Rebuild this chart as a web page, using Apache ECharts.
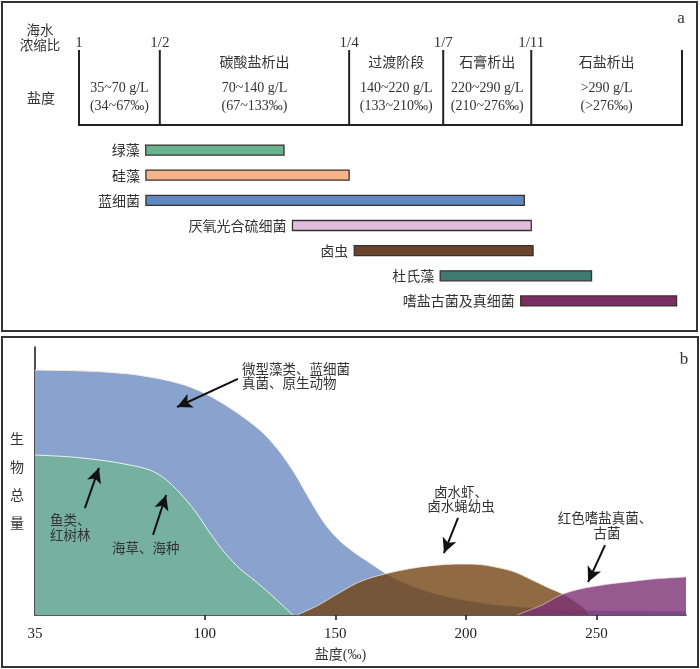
<!DOCTYPE html>
<html>
<head>
<meta charset="utf-8">
<script src="https://cdn.jsdelivr.net/npm/echarts@6/dist/echarts.min.js"></script>
<style>
html,body{margin:0;padding:0;background:#fff;}
#chart{width:700px;height:669px;}
</style>
</head>
<body>
<div id="chart"></div>
<script>
// ---------- Panel a: evaporation stages (schematic position scale 0-100) ----------
const ratioLabels = ['1', '1/2', '1/4', '1/7', '1/11', ''];
const stageBounds = [0, 13.4, 44.8, 60.4, 75.0, 100];
const stageNames = ['', '碳酸盐析出', '过渡阶段', '石膏析出', '石盐析出'];
const stageGL = ['35~70 g/L', '70~140 g/L', '140~220 g/L', '220~290 g/L', '>290 g/L'];
const stagePermil = ['(34~67‰)', '(67~133‰)', '(133~210‰)', '(210~276‰)', '(>276‰)'];

// ---------- Panel a: organism tolerance ranges ----------
const organisms = ['绿藻', '硅藻', '蓝细菌', '厌氧光合硫细菌', '卤虫', '杜氏藻', '嗜盐古菌及真细菌'];
const rangeStart = [11.06, 11.1, 11.1, 35.4, 45.65, 59.9, 73.25];
const rangeEnd = [34.0, 44.8, 73.85, 75.0, 75.3, 85.0, 99.1];

// ---------- Panel b: biomass vs salinity (‰) ----------
const xTickValues = [100, 150, 200, 250];
const xLabelValues = [35, 100, 150, 200, 250];
const microAlgae = [[35,91.4],[48.4,91.2],[59.9,90.8],[71.4,89.9],[79,88.8],[86.7,87.3],[94.4,85.1],[102,81.7],[109.7,77.2],[117.3,72.0],[123.1,67.2],[128.8,60.8],[134.6,52.6],[140.3,42.9],[146.1,33.9],[151.8,27.6],[157.6,23.1],[163.3,19.4],[169,15.7],[174.8,12.7],[182.5,9.7],[192,7.1],[201.6,5.2],[213.1,3.7],[224.6,2.8],[236.1,2.1],[251.4,1.7],[284.3,1.5]];
const fishSeagrass = [[35,59.7],[48.4,59.0],[59.9,57.8],[69.5,56.3],[79,54.1],[84.8,50.8],[90.5,45.5],[96.3,38.8],[102,30.6],[107.8,23.1],[113.5,17.2],[119.3,12.7],[125,7.9],[130,3.4],[133.8,0]];
const brineShrimp = [[135.3,0],[143,3.4],[150.7,7.8],[157.6,11.6],[163.3,13.8],[169,15.3],[174.8,16.6],[182.5,17.9],[190.1,18.7],[197.8,19.0],[205.5,18.8],[213.1,17.5],[218.8,16.0],[224.6,13.4],[231.1,10.4],[237.2,7.8],[242.6,4.5],[245.6,2.2],[247.6,0]];
const halophiles = [[219.6,0],[224.6,1.9],[229.6,3.9],[233.4,6.0],[237.2,7.8],[243,9.5],[248.7,10.6],[255.2,11.6],[261.7,12.3],[268.6,13.1],[274.4,13.6],[284.3,14.2]];
// arrows: [from, to] in (salinity, biomass)
const arrows = [
  [[112.7,88.1],[89.4,77.6]],
  [[54.1,39.9],[59.5,54.9]],
  [[80.2,29.9],[85.2,44.8]],
  [[197.0,36.2],[191.6,23.1]],
  [[253.3,26.1],[246.8,12.3]]
];

const barColors = ['#69b391', '#f6b48a', '#5f87c0', '#e1bfdc', '#6b4328', '#3f7b70', '#7a2c63'];
const SERIF = "'Liberation Serif', 'Noto Sans CJK SC', serif";
const CJK = "'Noto Sans CJK SC', sans-serif";
const TXT = '#333';

const chart = echarts.init(document.getElementById('chart'), null, {renderer: 'canvas'});

function txt(x, y, text, size, align, family) {
  return {
    type: 'text', x: x, y: y, z: 100,
    style: {text: text, x: 0, y: 0, fill: TXT, font: size + 'px ' + (family || CJK),
      align: align || 'left', textAlign: align || 'left', verticalAlign: 'middle', textVerticalAlign: 'middle'}
  };
}

const smoothVal = 0.3;
const option = {
  animation: false,
  backgroundColor: '#fff',
  grid: [
    {left: 79, right: 18, top: 50, height: 75},
    {left: 79, right: 18, top: 137.5, height: 176},
    {left: 35, right: 14, top: 347, bottom: 54}
  ],
  xAxis: [
    {gridIndex: 0, type: 'value', min: 0, max: 100, show: false},
    {gridIndex: 1, type: 'value', min: 0, max: 100, show: false},
    {gridIndex: 2, type: 'value', min: 35, max: 284.3,
      name: '盐度(‰)', nameLocation: 'middle', nameGap: 40,
      nameTextStyle: {fontFamily: SERIF, fontSize: 14, color: TXT, padding: [0, 40, 0, 0], verticalAlign: 'middle'},
      axisLine: {show: true, lineStyle: {color: '#222', width: 1.6}},
      axisTick: {show: true, length: 5, customValues: xTickValues, lineStyle: {color: '#222', width: 1.6}},
      axisLabel: {customValues: xLabelValues, fontFamily: SERIF, fontSize: 15, color: '#222', margin: 12},
      splitLine: {show: false}}
  ],
  yAxis: [
    {gridIndex: 0, type: 'value', min: 0, max: 1, show: false},
    {gridIndex: 1, type: 'category', data: organisms, inverse: true, show: false},
    {gridIndex: 2, type: 'value', min: 0, max: 100,
      name: '生\n物\n总\n量', nameLocation: 'middle', nameRotate: 0, nameGap: 18,
      nameTextStyle: {fontFamily: CJK, fontSize: 14, color: TXT, lineHeight: 28, align: 'center', verticalAlign: 'middle'},
      axisLine: {show: true, lineStyle: {color: '#222', width: 1.6}},
      axisTick: {show: false}, axisLabel: {show: false}, splitLine: {show: false}}
  ],
  series: [
    // stage boundaries + ratio labels
    {
      type: 'custom', xAxisIndex: 0, yAxisIndex: 0, silent: true,
      data: stageBounds.map(b => [b, 0]),
      renderItem: function (params, api) {
        const x = api.value(0);
        const top = api.coord([x, 1]);
        const bot = api.coord([x, 0]);
        return {type: 'group', children: [
          {type: 'line', shape: {x1: top[0], y1: top[1], x2: bot[0], y2: bot[1] + 1}, style: {stroke: '#222', lineWidth: 2}},
          {type: 'text', style: {text: ratioLabels[params.dataIndex], x: top[0], y: top[1] - 7,
            font: '15px ' + SERIF, fill: TXT, align: 'center', textAlign: 'center', verticalAlign: 'middle', textVerticalAlign: 'middle'}}
        ]};
      }
    },
    // stages: base line + names + salinity text
    {
      type: 'custom', xAxisIndex: 0, yAxisIndex: 0, silent: true,
      data: stageNames.map((n, i) => [stageBounds[i], stageBounds[i + 1]]),
      renderItem: function (params, api) {
        const i = params.dataIndex;
        const a = api.coord([api.value(0), 0]);
        const b = api.coord([api.value(1), 0]);
        const mid = (a[0] + b[0]) / 2;
        const yName = api.coord([0, 0.84])[1];
        const yGL = api.coord([0, 0.493])[1];
        const yPm = api.coord([0, 0.253])[1];
        const mk = (t, y, f) => ({type: 'text', style: {text: t, x: mid, y: y, font: f, fill: TXT,
          align: 'center', textAlign: 'center', verticalAlign: 'middle', textVerticalAlign: 'middle'}});
        return {type: 'group', children: [
          {type: 'line', shape: {x1: a[0] - 1, y1: a[1], x2: b[0] + 1, y2: b[1]}, style: {stroke: '#222', lineWidth: 2}},
          mk(stageNames[i], yName, '14px ' + CJK),
          mk(stageGL[i], yGL, '14px ' + SERIF),
          mk(stagePermil[i], yPm, '14px ' + SERIF)
        ]};
      }
    },
    // organism ranges
    {
      type: 'custom', xAxisIndex: 1, yAxisIndex: 1, silent: true,
      data: organisms.map((o, i) => [i, rangeStart[i], rangeEnd[i]]),
      encode: {y: 0, x: [1, 2]},
      renderItem: function (params, api) {
        const i = params.dataIndex;
        const s = api.coord([api.value(1), api.value(0)]);
        const e = api.coord([api.value(2), api.value(0)]);
        const h = 10;
        return {type: 'group', children: [
          {type: 'rect', shape: {x: s[0], y: s[1] - h / 2, width: e[0] - s[0], height: h},
            style: {fill: barColors[i], stroke: '#3a3030', lineWidth: 1.3}},
          {type: 'text', style: {text: organisms[i], x: s[0] - 6, y: s[1], font: '14px ' + CJK, fill: TXT,
            align: 'right', textAlign: 'right', verticalAlign: 'middle', textVerticalAlign: 'middle'}}
        ]};
      }
    },
    // panel b areas
    {
      name: '微型藻类、蓝细菌、真菌、原生动物', type: 'line', xAxisIndex: 2, yAxisIndex: 2, z: 2,
      data: microAlgae, smooth: smoothVal, symbol: 'none', silent: true,
      lineStyle: {color: '#f4efe6', width: 1}, areaStyle: {color: '#8aa2ce', opacity: 1}
    },
    {
      name: '鱼类、红树林、海草、海种', type: 'line', xAxisIndex: 2, yAxisIndex: 2, z: 3,
      data: fishSeagrass, smooth: smoothVal, symbol: 'none', silent: true,
      lineStyle: {color: '#eef3ef', width: 1}, areaStyle: {color: '#76b0a1', opacity: 1}
    },
    {
      name: '卤水虾、卤水蝇幼虫', type: 'line', xAxisIndex: 2, yAxisIndex: 2, z: 4,
      data: brineShrimp, smooth: smoothVal, symbol: 'none', silent: true,
      lineStyle: {color: '#f3e6d6', width: 1, opacity: 0.8}, areaStyle: {color: 'rgb(112,64,14)', opacity: 0.78}
    },
    {
      name: '红色嗜盐真菌、古菌', type: 'line', xAxisIndex: 2, yAxisIndex: 2, z: 5,
      data: halophiles, smooth: smoothVal, symbol: 'none', silent: true,
      lineStyle: {color: '#f0dcec', width: 1, opacity: 0.6}, areaStyle: {color: 'rgb(124,49,118)', opacity: 0.8},
      markLine: {
        silent: true, symbol: ['none', 'arrow'], symbolSize: [11, 15], z: 10,
        lineStyle: {color: '#111', width: 2, type: 'solid'}, label: {show: false},
        emphasis: {disabled: true},
        data: arrows.map(a => [{coord: a[0]}, {coord: a[1]}])
      }
    }
  ],
  graphic: [
    {type: 'rect', z: 100, shape: {x: 2, y: 2, width: 695, height: 329}, style: {fill: 'none', stroke: '#333', lineWidth: 2}, silent: true},
    {type: 'rect', z: 100, shape: {x: 2, y: 337, width: 696, height: 330}, style: {fill: 'none', stroke: '#333', lineWidth: 2}, silent: true},
    txt(40, 30, '海水', 13.5, 'center'),
    txt(40, 45, '浓缩比', 13.5, 'center'),
    txt(41, 98, '盐度', 14, 'center'),
    txt(681, 19, 'a', 17, 'center', SERIF),
    txt(684, 360, 'b', 17, 'center', SERIF),
    txt(242, 368.5, '微型藻类、蓝细菌', 13.5, 'left'),
    txt(242, 383, '真菌、原生动物', 13.5, 'left'),
    txt(50, 520, '鱼类、', 13.5, 'left'),
    txt(50, 534.5, '红树林', 13.5, 'left'),
    txt(112, 548, '海草、海种', 13.5, 'left'),
    txt(461, 491.5, '卤水虾、', 13.5, 'center'),
    txt(461, 505.5, '卤水蝇幼虫', 13.5, 'center'),
    txt(605, 518, '红色嗜盐真菌、', 13.5, 'center'),
    txt(607, 532.5, '古菌', 13.5, 'center')
  ]
};
chart.setOption(option);
</script>
</body>
</html>
